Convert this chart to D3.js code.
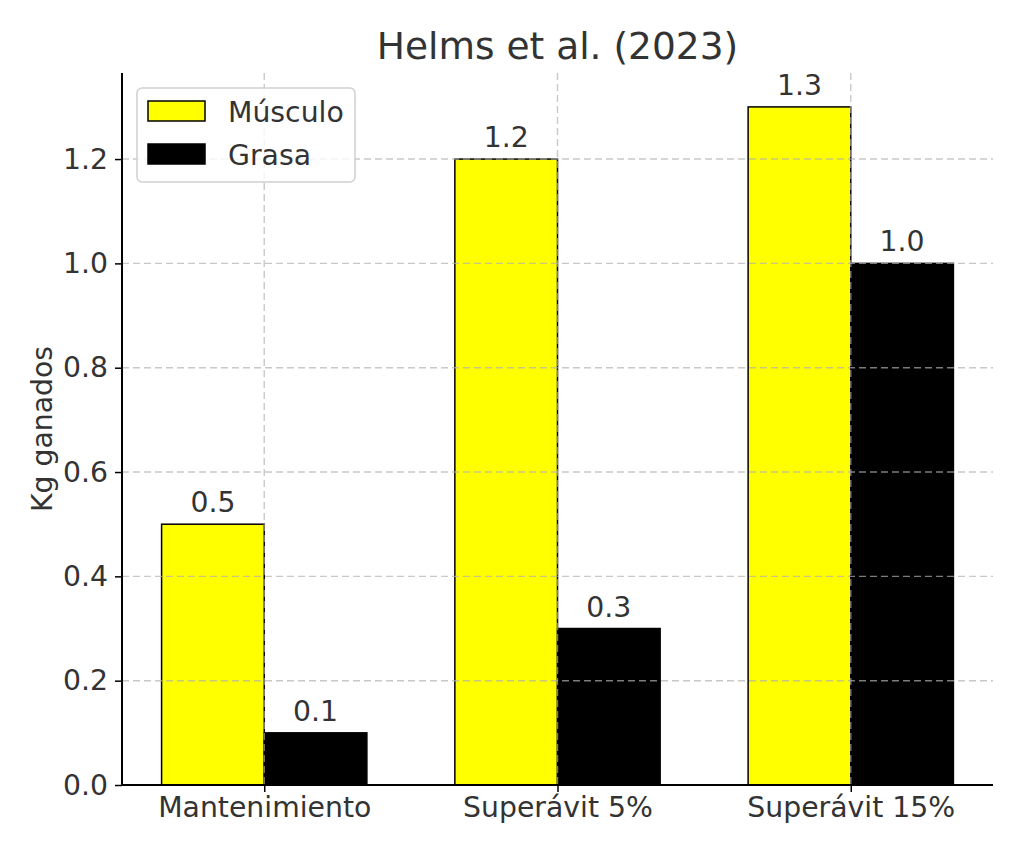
<!DOCTYPE html>
<html><head><meta charset="utf-8">
<script src="https://cdn.jsdelivr.net/npm/d3@7"></script>
<style>body{margin:0;background:#fff}text{font-family:"DejaVu Sans",sans-serif}</style>
</head><body><svg id="c" width="1024" height="853"></svg>
<script>
const categories = ["Mantenimiento", "Superávit 5%", "Superávit 15%"];
const musculo = [0.5, 1.2, 1.3];
const grasa = [0.1, 0.3, 1.0];
const seriesNames = ["Músculo", "Grasa"];
const yTicks = [0.0, 0.2, 0.4, 0.6, 0.8, 1.0, 1.2];
const title = "Helms et al. (2023)";
const yLabel = "Kg ganados";

const svg = d3.select("#c");
const L = 122, R = 993, T = 73, B = 785;
const bw = 0.35;
const fs = 28.3;
const x = d3.scaleLinear().domain([-0.485, 2.485]).range([L, R]);
const y = d3.scaleLinear().domain([0, 1.365]).range([B, T]);
const txt = "#333";

// bars
const series = [
  {name: seriesNames[0], vals: musculo, off: -bw, fill: "#ffff00"},
  {name: seriesNames[1], vals: grasa, off: 0, fill: "#000000"}
];
series.forEach(s => {
  svg.append("g").selectAll("rect").data(s.vals).join("rect")
    .attr("x", (d, i) => x(i + s.off))
    .attr("y", d => y(d))
    .attr("width", (d, i) => x(i + s.off + bw) - x(i + s.off))
    .attr("height", d => y(0) - y(d))
    .attr("fill", s.fill).attr("stroke", "#000").attr("stroke-width", 1.5);
  svg.append("g").selectAll("text").data(s.vals).join("text")
    .attr("x", (d, i) => x(i + s.off + bw / 2))
    .attr("y", d => y(d) - 12)
    .attr("text-anchor", "middle").attr("font-size", fs).attr("fill", txt)
    .text(d => d.toFixed(1));
});

// grid (on top)
const grid = svg.append("g").attr("stroke", "#b0b0b0").attr("stroke-opacity", 0.7)
  .attr("stroke-width", 1.4).attr("stroke-dasharray", "7,4");
grid.selectAll(".gy").data(yTicks.slice(1)).join("line")
  .attr("x1", L).attr("x2", R).attr("y1", d => y(d)).attr("y2", d => y(d));
grid.selectAll(".gx").data(categories).join("line")
  .attr("x1", (d, i) => x(i)).attr("x2", (d, i) => x(i)).attr("y1", T).attr("y2", B);

// axes
const yAxis = svg.append("g").attr("transform", `translate(${L},0)`)
  .call(d3.axisLeft(y).tickValues(yTicks).tickFormat(d3.format(".1f")).tickSize(7).tickPadding(7));
const xAxis = svg.append("g").attr("transform", `translate(0,${B})`)
  .call(d3.axisBottom(x).tickValues(categories.map((c, i) => i)).tickFormat(i => categories[i]).tickSize(7).tickPadding(5));
[yAxis, xAxis].forEach(a => {
  a.select(".domain").attr("stroke", "#000").attr("stroke-width", 2);
  a.selectAll(".tick line").attr("stroke", "#000").attr("stroke-width", 1.5);
  a.selectAll(".tick text").attr("font-size", fs).attr("fill", txt).attr("font-family", "DejaVu Sans");
});
yAxis.select(".domain").attr("d", `M0,${T}V${B}`);
xAxis.select(".domain").attr("d", `M${L},0H${R}`);

// title & label
svg.append("text").attr("x", (L + R) / 2).attr("y", 59).attr("text-anchor", "middle")
  .attr("font-size", 37.5).attr("fill", txt).text(title);
svg.append("text").attr("transform", `translate(52,${(T + B) / 2}) rotate(-90)`)
  .attr("text-anchor", "middle").attr("font-size", fs).attr("fill", txt).text(yLabel);

// legend
const lg = svg.append("g");
lg.append("rect").attr("x", 137).attr("y", 88).attr("width", 218).attr("height", 94).attr("rx", 5)
  .attr("fill", "#fff").attr("fill-opacity", 0.8).attr("stroke", "#d0d0d0").attr("stroke-width", 1.5);
series.forEach((s, i) => {
  lg.append("rect").attr("x", 148).attr("y", 101 + i * 43).attr("width", 57).attr("height", 20)
    .attr("fill", s.fill).attr("stroke", "#000").attr("stroke-width", 1.5);
  lg.append("text").attr("x", 228).attr("y", 122 + i * 43).attr("font-size", fs).attr("fill", txt).text(s.name);
});
</script></body></html>
